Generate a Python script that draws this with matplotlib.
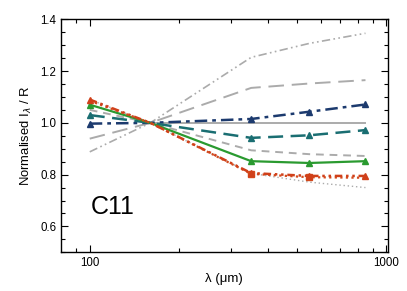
import matplotlib
matplotlib.use("Agg")
import matplotlib.pyplot as plt
from matplotlib.ticker import FixedLocator, NullFormatter, MultipleLocator

plt.rcParams['font.family'] = ['Liberation Sans', 'DejaVu Sans']

wavelengths = [100, 160, 350, 550, 850]

gray_dashdot = [0.888, 1.0, 1.253, 1.307, 1.346]
gray_longdash = [0.939, 1.0, 1.135, 1.152, 1.165]
gray_solid = [1.0, 1.0, 1.0, 1.0, 1.0]
gray_shortdash = [1.05, 1.0, 0.894, 0.879, 0.872]
gray_dotted = [1.09, 1.0, 0.805, 0.771, 0.750]

blue_tri = [0.997, 1.0, 1.015, 1.043, 1.071]
teal_tri = [1.030, 1.0, 0.942, 0.952, 0.972]
green_tri = [1.070, 1.0, 0.852, 0.845, 0.852]
red_tri = [1.090, 1.0, 0.806, 0.795, 0.795]
red_sq = [1.085, 1.0, 0.803, 0.790, 0.788]

fig = plt.figure(figsize=(4.07, 2.91), dpi=100)
ax = fig.add_axes([61/407, 1 - 252.3/291, (387.7 - 61)/407, (252.3 - 19.3)/291])

gc = '#ababab'
ax.plot(wavelengths, gray_dashdot, color=gc, lw=1.2, dashes=(5, 2, 1, 2, 1, 2))
ax.plot(wavelengths, gray_longdash, color=gc, lw=1.4, dashes=(8, 4))
ax.plot(wavelengths[1:], gray_solid[1:], color=gc, lw=1.4)
ax.plot(wavelengths, gray_shortdash, color=gc, lw=1.4, dashes=(4, 3))
ax.plot(wavelengths, gray_dotted, color=gc, lw=1.0, dashes=(1, 2))

ax.plot(wavelengths, blue_tri, color='#1c3a6e', lw=1.8, dashes=(5, 2, 1.5, 2),
        marker='^', ms=4.2, markevery=[0, 2, 3, 4])
ax.plot(wavelengths, teal_tri, color='#1a6e72', lw=1.8, dashes=(6, 3),
        marker='^', ms=4.2, markevery=[0, 2, 3, 4])
ax.plot(wavelengths, green_tri, color='#2a9a30', lw=1.6,
        marker='^', ms=4.2, markevery=[0, 2, 3, 4])
ax.plot(wavelengths, red_sq, color='#d44a1c', lw=1.6, dashes=(1, 1.5),
        marker='s', ms=3.8, markevery=[2, 3])
ax.plot(wavelengths, red_tri, color='#d0401a', lw=1.8, dashes=(3, 1.5, 1, 1.5, 1, 1.5),
        marker='^', ms=4.6, markevery=[0, 2, 3, 4])

ax.set_xscale('log')
ax.set_xlim(80, 1010)
ax.set_ylim(0.5, 1.4)
ax.xaxis.set_major_locator(FixedLocator([100, 1000]))
ax.set_xticklabels(['100', '1000'])
ax.xaxis.set_minor_locator(FixedLocator([90, 200, 300, 400, 500, 600, 700, 800, 900]))
ax.xaxis.set_minor_formatter(NullFormatter())
ax.yaxis.set_major_locator(MultipleLocator(0.2))
ax.yaxis.set_minor_locator(MultipleLocator(0.05))
ax.set_yticks([0.6, 0.8, 1.0, 1.2, 1.4])
ax.set_yticklabels(['0.6', '0.8', '1.0', '1.2', '1.4'])

ax.tick_params(which='both', direction='in', top=True, right=True, labelsize=8.3, width=0.8)
ax.tick_params(which='major', length=5)
ax.tick_params(which='minor', length=3)
for s in ax.spines.values():
    s.set_linewidth(1.0)

ax.set_xlabel('λ (μm)', fontsize=9.5, labelpad=3)
ax.set_ylabel('Normalised I$_\\lambda$ / R', fontsize=9.4, labelpad=4)
ax.text(0.09, 0.165, 'C11', transform=ax.transAxes, fontsize=18, ha='left', va='baseline')

fig.savefig('out.png', dpi=100)
